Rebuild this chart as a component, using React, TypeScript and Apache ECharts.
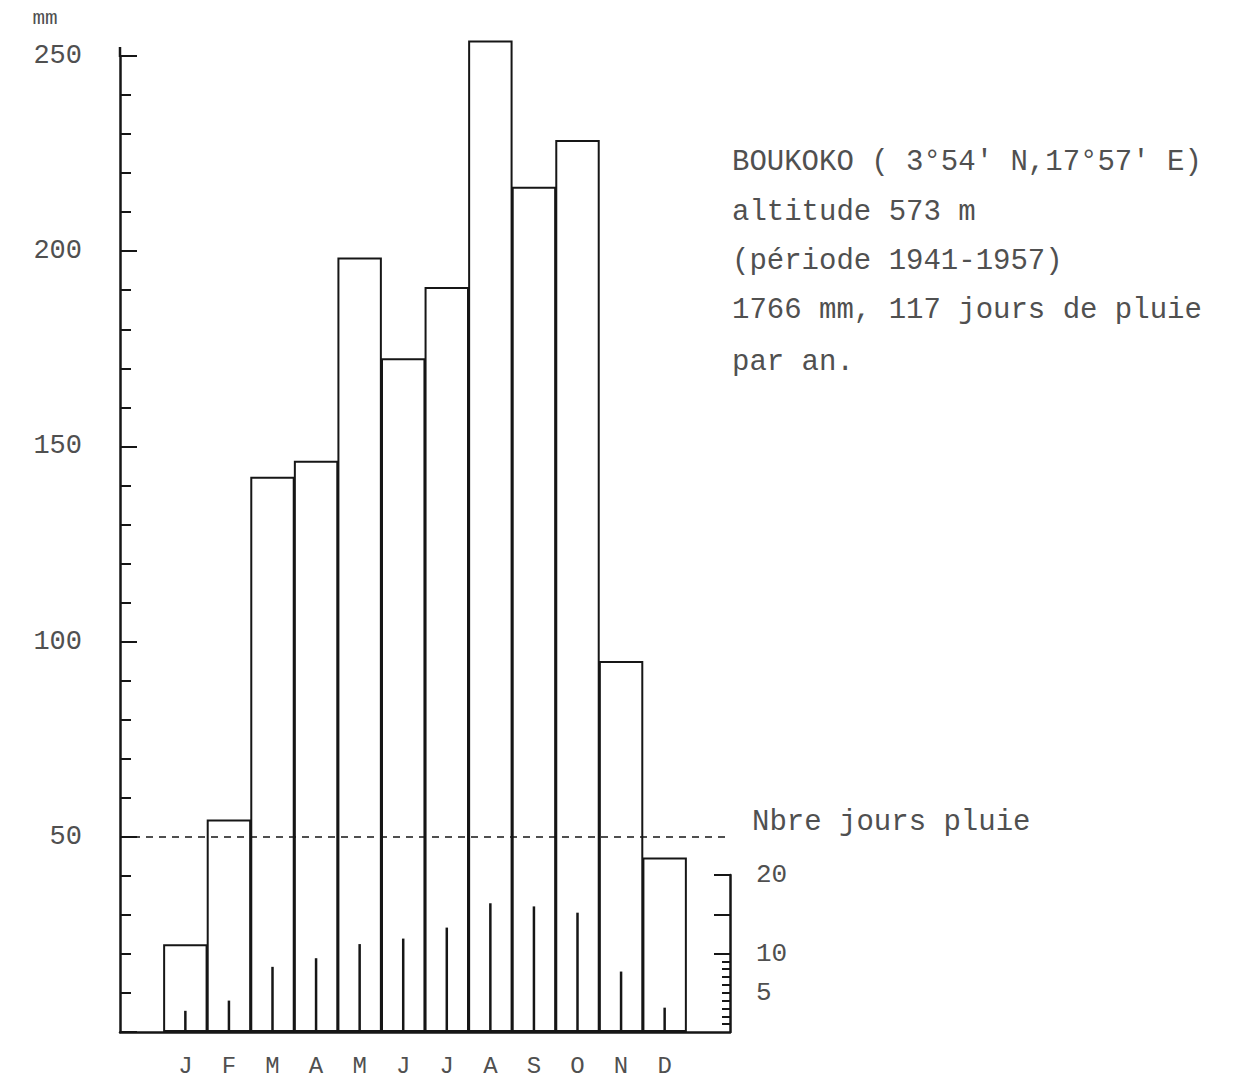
import React, { useEffect, useRef } from 'react';
import * as echarts from 'echarts';

const months = ['J', 'F', 'M', 'A', 'M', 'J', 'J', 'A', 'S', 'O', 'N', 'D'];
const rainfallMm = [22.5, 54.4, 142.2, 146.3, 198.4, 172.6, 190.8, 254, 216.5, 228.5, 95, 44.7];
const rainDays = [2.7, 4, 8.3, 9.4, 11.2, 11.9, 13.3, 16.4, 16, 15.2, 7.7, 3.1];
const dayLabelValues = [5, 10, 20];
const dayMajorTickValues = [10, 15, 20];
const dayMinorTickValues = [1, 2, 3, 4, 5, 6, 7, 8, 9];
const referenceLevelMm = 50;
const unitLabel = 'mm';
const daysTitle = 'Nbre jours pluie';
const infoLines = [
  "BOUKOKO ( 3°54' N,17°57' E)",
  'altitude 573 m',
  '(période 1941-1957)',
  '1766 mm, 117 jours de pluie',
  'par an.',
];

const categories = ['', ...months, ''];
const pad = (arr: number[]) => [null, ...arr, null];

const INK = '#161616';
const TXT = '#505050';
const FONT = '"Liberation Mono", "DejaVu Sans Mono", monospace';

export default function App() {
  const ref = useRef<HTMLDivElement>(null);

  useEffect(() => {
    if (!ref.current) return;
    const chart = echarts.init(ref.current, undefined, { renderer: 'svg' });
    const infoY = [162, 212, 261, 310, 362];
    const option: any = {
      animation: false,
      backgroundColor: '#ffffff',
      grid: [
        { left: 120, right: 512, top: 56, bottom: 47 },
        { left: 120, right: 512, top: 875, bottom: 47 },
      ],
      xAxis: [
        {
          type: 'category',
          gridIndex: 0,
          data: categories,
          axisLine: { show: true, lineStyle: { color: INK, width: 2.5 } },
          axisTick: { show: false },
          splitLine: { show: false },
          axisLabel: { interval: 0, margin: 22, color: TXT, fontFamily: FONT, fontSize: 24 },
        },
        { type: 'category', gridIndex: 1, data: categories, show: false },
      ],
      yAxis: [
        {
          type: 'value',
          gridIndex: 0,
          min: 0,
          max: 250,
          interval: 50,
          axisLine: { show: true, lineStyle: { color: INK, width: 2.5 } },
          axisTick: { show: true, inside: true, length: 17, lineStyle: { color: INK, width: 2 } },
          minorTick: { show: true, splitNumber: 5, length: 11, lineStyle: { color: INK, width: 2 } },
          splitLine: { show: false },
          minorSplitLine: { show: false },
          axisLabel: {
            formatter: (v: number) => (v === 0 ? '' : String(v)),
            margin: 38,
            color: TXT,
            fontFamily: FONT,
            fontSize: 27,
          },
        },
        {
          type: 'value',
          gridIndex: 1,
          position: 'right',
          min: 0,
          max: 20,
          axisLine: { show: true, lineStyle: { color: INK, width: 2.5 } },
          axisTick: { show: true, inside: true, length: 16, lineStyle: { color: INK, width: 2 }, customValues: dayMajorTickValues },
          splitLine: { show: false },
          axisLabel: { customValues: dayLabelValues, margin: 26, color: TXT, fontFamily: FONT, fontSize: 26 },
        },
        {
          type: 'value',
          gridIndex: 1,
          position: 'right',
          min: 0,
          max: 20,
          axisLine: { show: false },
          axisTick: { show: true, inside: true, length: 8, lineStyle: { color: INK, width: 2 }, customValues: dayMinorTickValues },
          splitLine: { show: false },
          axisLabel: { show: false },
        },
      ],
      series: [
        {
          type: 'bar',
          xAxisIndex: 0,
          yAxisIndex: 0,
          data: pad(rainfallMm),
          barWidth: '102%',
          clip: false,
          itemStyle: { color: '#ffffff', borderColor: INK, borderWidth: 2 },
          markLine: {
            silent: true,
            symbol: 'none',
            label: { show: false },
            lineStyle: { type: [7, 6], color: INK, width: 1.6 },
            data: [{ yAxis: referenceLevelMm }],
          },
        },
        {
          type: 'bar',
          xAxisIndex: 1,
          yAxisIndex: 1,
          data: pad(rainDays),
          barWidth: 2.5,
          itemStyle: { color: INK },
        },
      ],
      graphic: [
        { type: 'line', shape: { x1: 120, y1: 47, x2: 120, y2: 57 }, style: { stroke: INK, lineWidth: 2.5 } },
        {
          type: 'text',
          x: 45,
          y: 18,
          style: { text: unitLabel, fontSize: 21, fontFamily: FONT, fill: TXT, align: 'center', verticalAlign: 'middle' },
        },
        ...infoLines.map((t, i) => ({
          type: 'text',
          x: 732,
          y: infoY[i],
          style: { text: t, fontSize: 29, fontFamily: FONT, fill: TXT, align: 'left', verticalAlign: 'middle' },
        })),
        {
          type: 'text',
          x: 752,
          y: 822,
          style: { text: daysTitle, fontSize: 29, fontFamily: FONT, fill: TXT, align: 'left', verticalAlign: 'middle' },
        },
      ],
    };
    chart.setOption(option);
    return () => chart.dispose();
  }, []);

  return (
    <div
      ref={ref}
      style={{ position: 'fixed', left: 0, top: 0, width: 1242, height: 1079, background: '#fff' }}
    />
  );
}
